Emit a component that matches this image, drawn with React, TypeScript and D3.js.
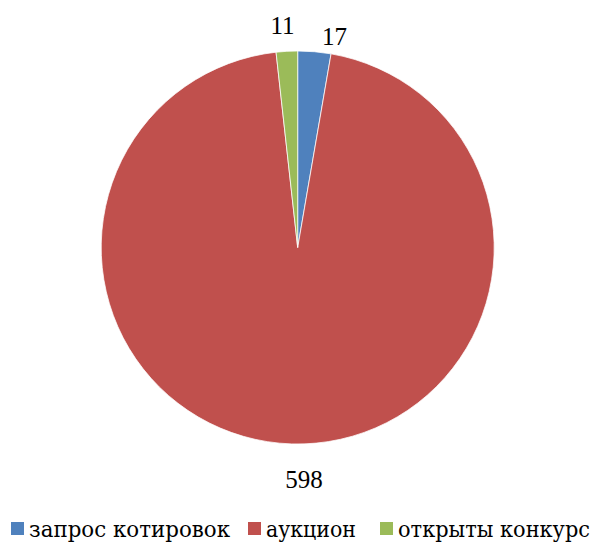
import React from "react";
import * as d3 from "d3";

const categories = ["запрос котировок", "аукцион", "открыты конкурс"];
const values = [17, 598, 11];
const colors = ["#4F81BD", "#C0504D", "#9BBB59"];

const W = 595;
const H = 542;
const cx = 297.7;
const cy = 247.5;
const R = 196.5;

const labelPos = [
  { x: 334.5, y: 45 },
  { x: 304, y: 488 },
  { x: 282.5, y: 34 },
];

const legendItems = [
  { sx: 11, tx: 29, w: 201 },
  { sx: 248, tx: 266, w: 90 },
  { sx: 380, tx: 398, w: 192 },
];

export default function App() {
  const pie = d3.pie<number>().sort(null).value((d) => d)(values);
  const arc = d3.arc<d3.PieArcDatum<number>>().innerRadius(0).outerRadius(R);
  const font = "'Liberation Serif', serif";
  const legendFont = "'DejaVu Serif'";
  return (
    <svg
      width={W}
      height={H}
      style={{ position: "absolute", left: 0, top: 0, background: "#fff" }}
    >
      <g transform={`translate(${cx},${cy})`}>
        {pie.map((p, i) => (
          <path key={i} d={arc(p) || ""} fill={colors[i]} stroke="#fff" strokeWidth={0.75} />
        ))}
      </g>
      {pie.map((p, i) => (
        <text
          key={i}
          x={labelPos[i].x}
          y={labelPos[i].y}
          textAnchor="middle"
          fontFamily={font}
          fontSize={25}
          fill="#000"
        >
          {p.data}
        </text>
      ))}
      {categories.map((c, i) => (
        <g key={c}>
          <rect x={legendItems[i].sx} y={522} width={13} height={13} fill={colors[i]} />
          <text
            x={legendItems[i].tx}
            y={537}
            fontFamily={legendFont}
            fontSize={22}
            fill="#000"
            textLength={legendItems[i].w}
            lengthAdjust="spacingAndGlyphs"
          >
            {c}
          </text>
        </g>
      ))}
    </svg>
  );
}
